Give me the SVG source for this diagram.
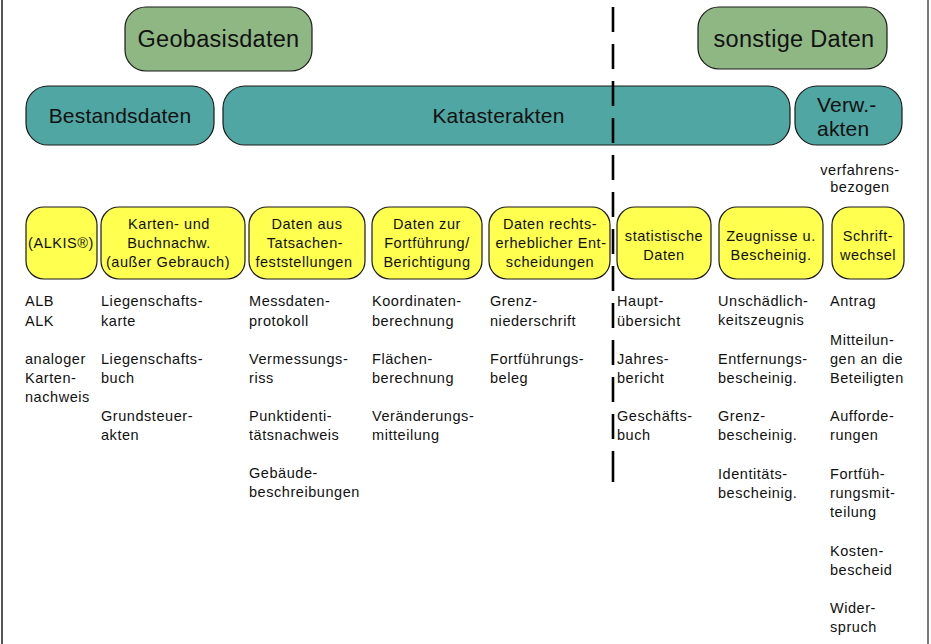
<svg xmlns="http://www.w3.org/2000/svg" width="931" height="644" viewBox="0 0 931 644">
<style>
.hdr{fill:#8fb784;stroke:#1a1a1a;stroke-width:1.2}
.teal{fill:#4fa6a3;stroke:#1a1a1a;stroke-width:1.2}
.yel{fill:#ffff4f;stroke:#1a1a1a;stroke-width:1.2}
text{font-family:"Liberation Sans",Arial,Helvetica,sans-serif;fill:#111}
.big{font-size:23.5px;letter-spacing:0.3px;text-anchor:middle}
.mid{font-size:21px;letter-spacing:0.2px;text-anchor:middle}
.sm{font-size:14.5px;letter-spacing:0.55px;text-anchor:middle}
.body{font-size:14.5px;letter-spacing:0.55px}
</style>
<rect x="0" y="0" width="931" height="644" fill="#ffffff"/>
<line x1="2" y1="0" x2="2" y2="644" stroke="#555" stroke-width="2"/>
<line x1="928" y1="0" x2="928" y2="644" stroke="#222" stroke-width="1.2"/>

<g id="geobasisdaten"><rect class="hdr" x="125" y="7" width="187" height="64" rx="21"/><text class="big" x="218.5" y="47">Geobasisdaten</text></g>
<g id="sonstige-daten"><rect class="hdr" x="698" y="7" width="189" height="62" rx="21"/><text class="big" x="794" y="47">sonstige Daten</text></g>

<g id="bestandsdaten"><rect class="teal" x="26" y="86" width="188" height="59" rx="22"/><text class="mid" x="120" y="123">Bestandsdaten</text></g>
<g id="katasterakten"><rect class="teal" x="223" y="86" width="567" height="59" rx="22"/><text class="mid" x="498.5" y="123">Katasterakten</text></g>
<g id="verwakten"><rect class="teal" x="795" y="86" width="107" height="59" rx="22"/><text class="mid" x="817" y="112" style="text-anchor:start">Verw.-</text><text class="mid" x="817" y="136" style="text-anchor:start">akten</text></g>

<g id="verfahrensbezogen"><text class="sm" x="860" y="175">verfahrens-</text><text class="sm" x="860" y="192">bezogen</text></g>

<g id="alkis"><rect class="yel" x="26" y="207" width="71" height="72" rx="18"/><text class="sm" x="61" y="248">(ALKIS®)</text></g>
<g id="karten"><rect class="yel" x="101" y="207" width="144" height="72" rx="18"/><text class="sm" x="169" y="229">Karten- und</text><text class="sm" x="169" y="248">Buchnachw.</text><text class="sm" x="168" y="267">(außer Gebrauch)</text></g>
<g id="tatsachen"><rect class="yel" x="249" y="207" width="116" height="72" rx="18"/><text class="sm" x="307" y="229">Daten aus</text><text class="sm" x="305" y="248">Tatsachen-</text><text class="sm" x="304" y="267">feststellungen</text></g>
<g id="fortfuehrung"><rect class="yel" x="372" y="207" width="110" height="72" rx="18"/><text class="sm" x="427" y="229">Daten zur</text><text class="sm" x="427" y="248">Fortführung/</text><text class="sm" x="427" y="267">Berichtigung</text></g>
<g id="rechtserheblich"><rect class="yel" x="489" y="207" width="121" height="72" rx="18"/><text class="sm" x="550" y="229">Daten rechts-</text><text class="sm" x="551" y="248">erheblicher Ent-</text><text class="sm" x="550" y="267">scheidungen</text></g>
<g id="statistische"><rect class="yel" x="617" y="207" width="94" height="72" rx="18"/><text class="sm" x="664" y="241">statistische</text><text class="sm" x="664" y="260">Daten</text></g>
<g id="zeugnisse"><rect class="yel" x="719" y="207" width="104" height="72" rx="18"/><text class="sm" x="771" y="241">Zeugnisse u.</text><text class="sm" x="771" y="260">Bescheinig.</text></g>
<g id="schriftwechsel"><rect class="yel" x="832" y="207" width="72" height="72" rx="18"/><text class="sm" x="868" y="241">Schrift-</text><text class="sm" x="868" y="260">wechsel</text></g>

<g id="col-alkis" class="body">
<text x="25" y="306">ALB</text><text x="25" y="326">ALK</text>
<text x="25" y="364">analoger</text><text x="25" y="383">Karten-</text><text x="25" y="402">nachweis</text>
</g>
<g id="col-karten" class="body">
<text x="101" y="306">Liegenschafts-</text><text x="101" y="326">karte</text>
<text x="101" y="364">Liegenschafts-</text><text x="101" y="383">buch</text>
<text x="101" y="421">Grundsteuer-</text><text x="101" y="440">akten</text>
</g>
<g id="col-tatsachen" class="body">
<text x="249" y="306">Messdaten-</text><text x="249" y="326">protokoll</text>
<text x="249" y="364">Vermessungs-</text><text x="249" y="383">riss</text>
<text x="249" y="421">Punktidenti-</text><text x="249" y="440">tätsnachweis</text>
<text x="249" y="478">Gebäude-</text><text x="249" y="497">beschreibungen</text>
</g>
<g id="col-fortfuehrung" class="body">
<text x="372" y="306">Koordinaten-</text><text x="372" y="326">berechnung</text>
<text x="372" y="364">Flächen-</text><text x="372" y="383">berechnung</text>
<text x="372" y="421">Veränderungs-</text><text x="372" y="440">mitteilung</text>
</g>
<g id="col-rechtserheblich" class="body">
<text x="490" y="306">Grenz-</text><text x="490" y="326">niederschrift</text>
<text x="490" y="364">Fortführungs-</text><text x="490" y="383">beleg</text>
</g>
<g id="col-statistische" class="body">
<text x="617" y="306">Haupt-</text><text x="617" y="326">übersicht</text>
<text x="617" y="364">Jahres-</text><text x="617" y="383">bericht</text>
<text x="617" y="421">Geschäfts-</text><text x="617" y="440">buch</text>
</g>
<g id="col-zeugnisse" class="body">
<text x="718" y="306">Unschädlich-</text><text x="718" y="325">keitszeugnis</text>
<text x="718" y="364">Entfernungs-</text><text x="718" y="383">bescheinig.</text>
<text x="718" y="421">Grenz-</text><text x="718" y="440">bescheinig.</text>
<text x="718" y="479">Identitäts-</text><text x="718" y="498">bescheinig.</text>
</g>
<g id="col-schriftwechsel" class="body">
<text x="830" y="306">Antrag</text>
<text x="830" y="345">Mitteilun-</text><text x="830" y="364">gen an die</text><text x="830" y="383">Beteiligten</text>
<text x="830" y="421">Aufforde-</text><text x="830" y="440">rungen</text>
<text x="830" y="479">Fortfüh-</text><text x="830" y="498">rungsmit-</text><text x="830" y="517">teilung</text>
<text x="830" y="556">Kosten-</text><text x="830" y="575">bescheid</text>
<text x="830" y="613">Wider-</text><text x="830" y="632">spruch</text>
</g>

<g id="connectors">
<path d="M613 7V32M613 44V69M613 81V106M613 118V143M613 155V180M613 192V217M613 229V254M613 266V291M613 303V328M613 340V365M613 377V402M613 414V439M613 451V482" stroke="#000" stroke-width="2.6" fill="none"/>
</g>
</svg>
